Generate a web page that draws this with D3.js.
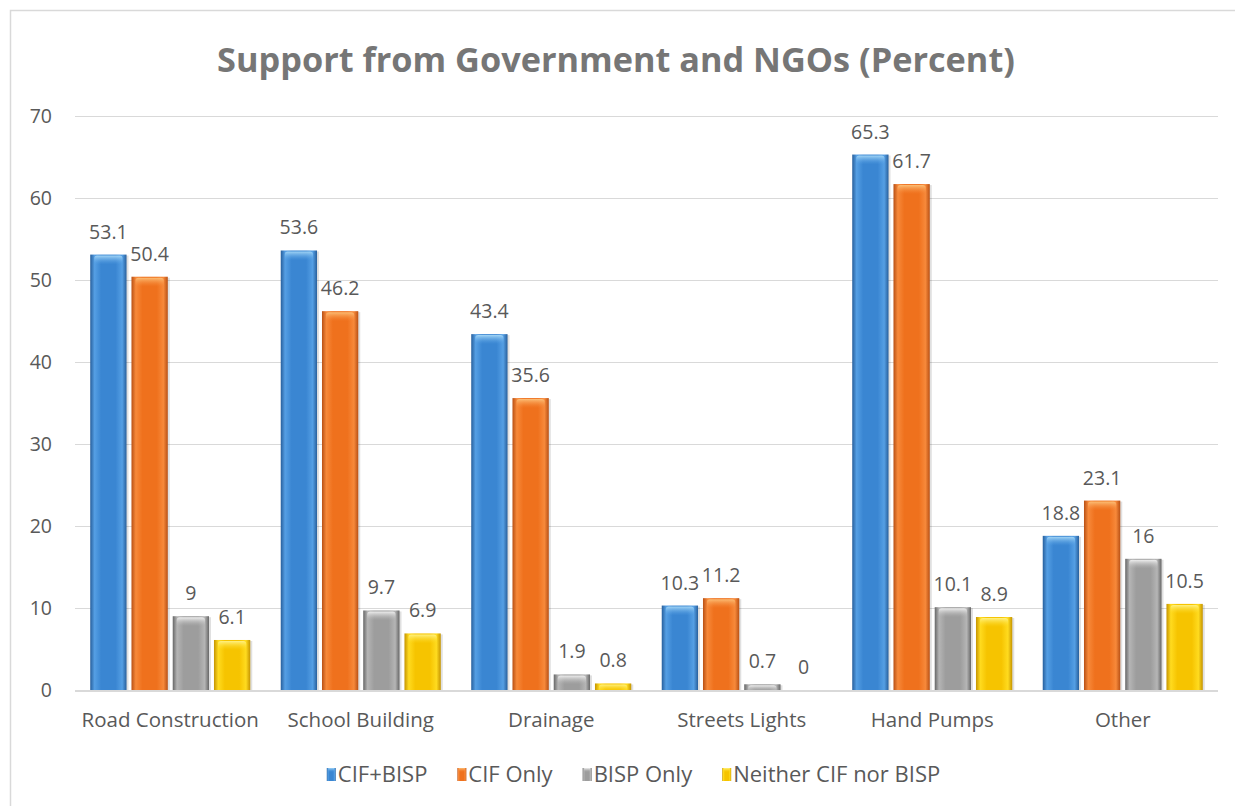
<!DOCTYPE html>
<html><head><meta charset="utf-8">
<script src="https://cdn.jsdelivr.net/npm/d3@7"></script>
<style>body{margin:0;background:#fff}svg{display:block}</style>
</head><body>
<svg id="chart" width="1235" height="806"></svg>
<script>
const title = "Support from Government and NGOs (Percent)";
const categories = ["Road Construction","School Building","Drainage","Streets Lights","Hand Pumps","Other"];
const seriesNames = ["CIF+BISP","CIF Only","BISP Only","Neither CIF nor BISP"];
const cifBisp   = [53.1, 53.6, 43.4, 10.3, 65.3, 18.8];
const cifOnly   = [50.4, 46.2, 35.6, 11.2, 61.7, 23.1];
const bispOnly  = [9, 9.7, 1.9, 0.7, 10.1, 16];
const neither   = [6.1, 6.9, 0.8, 0, 8.9, 10.5];
const yTicks = [0,10,20,30,40,50,60,70];

(function(){
const seriesValues = [cifBisp, cifOnly, bispOnly, neither];
const palette = [
  {base:"#3a86d2", dark:"#275f9c", light:"#559fe4", hi:"#a6d8f7"},
  {base:"#ef711d", dark:"#b85014", light:"#f7893a", hi:"#fcc27a"},
  {base:"#9d9d9d", dark:"#676767", light:"#b5b5b5", hi:"#f4f4f4"},
  {base:"#f6c400", dark:"#c59400", light:"#ffdb1f", hi:"#fff38a"}
];

const svg = d3.select("#chart");
const font = "'Open Sans', sans-serif";
const textCol = "#595959";

svg.append("rect").attr("x",10.5).attr("y",10.5).attr("width",1240).attr("height",820)
  .attr("fill","none").attr("stroke","#d9d9d9").attr("stroke-width",1.5);

const defs = svg.append("defs");
palette.forEach((p,i)=>{
  const g = defs.append("linearGradient").attr("id","g"+i).attr("x1","0").attr("x2","1").attr("y1","0").attr("y2","0");
  [[0,p.dark],[0.12,p.light],[0.3,p.base],[0.7,p.base],[0.88,p.light],[1,p.dark]]
    .forEach(([o,c])=>g.append("stop").attr("offset",o).attr("stop-color",c));
  const h = defs.append("linearGradient").attr("id","h"+i).attr("x1","0").attr("x2","0").attr("y1","0").attr("y2","1");
  h.append("stop").attr("offset",0).attr("stop-color",p.hi).attr("stop-opacity",0.95);
  h.append("stop").attr("offset",1).attr("stop-color",p.light).attr("stop-opacity",0);
});

const pL = 75, pR = 1218, pT = 116, pB = 690;
const y = d3.scaleLinear().domain([0,70]).range([pB, pT]);
const x0 = d3.scaleBand().domain(categories).range([pL,pR]).paddingInner(0.16).paddingOuter(0.08);
const x1 = d3.scaleBand().domain(seriesNames).range([0,x0.bandwidth()]).paddingInner(0.12);

svg.append("g").selectAll("line").data(yTicks.filter(t=>t>0)).join("line")
  .attr("x1",pL).attr("x2",pR).attr("y1",d=>y(d)+0.5).attr("y2",d=>y(d)+0.5)
  .attr("stroke","#d9d9d9").attr("stroke-width",1.2);

const yAxis = d3.axisLeft(y).tickValues(yTicks).tickSize(0).tickPadding(0);
const ya = svg.append("g").attr("transform",`translate(52,0)`).call(yAxis);
ya.select(".domain").remove();
ya.selectAll("text").attr("font-family",font).attr("font-size",19.5).attr("fill",textCol);

const groups = svg.append("g").selectAll("g").data(categories).join("g")
  .attr("transform",d=>`translate(${x0(d)},0)`);
groups.each(function(cat,ci){
  const g = d3.select(this);
  seriesNames.forEach((s,si)=>{
    const v = seriesValues[si][ci];
    const bx = x1(s), bw = x1.bandwidth();
    const by = y(v), bh = pB - y(v);
    if (bh > 0) {
      g.append("rect").attr("x",bx+2).attr("y",by+1).attr("width",bw).attr("height",bh)
        .attr("fill","#000").attr("opacity",0.12);
      g.append("rect").attr("x",bx).attr("y",by).attr("width",bw).attr("height",bh)
        .attr("fill",`url(#g${si})`);
      g.append("rect").attr("x",bx+4).attr("y",by+1).attr("width",bw-8).attr("height",Math.min(9,bh))
        .attr("rx",3).attr("fill",`url(#h${si})`);
    }
    g.append("text").attr("x",bx+bw/2).attr("y",by-16).attr("text-anchor","middle")
      .attr("font-family",font).attr("font-size",19.5).attr("fill",textCol).text(v);
  });
});

svg.append("line").attr("x1",pL).attr("x2",pR).attr("y1",pB+1).attr("y2",pB+1)
  .attr("stroke","#d9d9d9").attr("stroke-width",2.2);

const xAxis = d3.axisBottom(x0).tickSize(0).tickPadding(0);
const xa = svg.append("g").attr("transform",`translate(0,${pB})`).call(xAxis);
xa.select(".domain").remove();
xa.selectAll("text").attr("font-family",font).attr("font-size",20.5).attr("fill",textCol)
  .attr("dy",null).attr("y",37);

const t = svg.append("text").attr("x",616).attr("y",72).attr("text-anchor","middle")
  .attr("font-family",font).attr("font-weight","bold").attr("font-size",32)
  .attr("fill","#767676").text(title);
const tw = t.node().getComputedTextLength();
t.attr("font-size", 32*798/tw);

const lg = svg.append("g");
let cx = 0;
const gap = 30;
seriesNames.forEach((s,i)=>{
  const it = lg.append("g").attr("transform",`translate(${cx},0)`);
  it.append("rect").attr("x",0).attr("y",-14).attr("width",9).attr("height",13).attr("fill",`url(#g${i})`);
  it.append("rect").attr("x",1.5).attr("y",-14).attr("width",6).attr("height",4).attr("fill",`url(#h${i})`);
  const tx = it.append("text").attr("x",11).attr("y",0).attr("font-family",font).attr("font-size",22)
    .attr("fill",textCol).text(s);
  cx += 11 + tx.node().getComputedTextLength() + gap;
});
const total = cx - gap;
lg.attr("transform",`translate(${633.5 - total/2},782)`);
})();
</script>
</body></html>
